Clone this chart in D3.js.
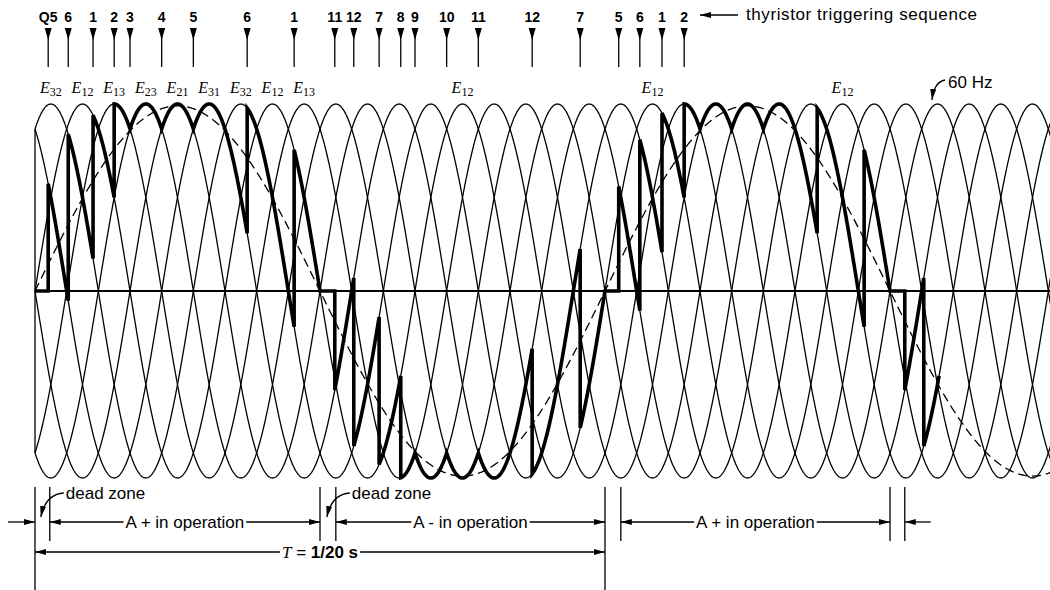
<!DOCTYPE html>
<meta charset="utf-8">
<style>
body { margin: 0; background: #fff; }
svg { display: block; }
.wave { fill: none; stroke: #000; stroke-width: 1.3px; }
.out { fill: none; stroke: #000; stroke-width: 3.6px; stroke-linejoin: miter; }
.ref { fill: none; stroke: #000; stroke-width: 1.3px; stroke-dasharray: 9 5; }
.zero { stroke: #000; stroke-width: 2.2px; }
.thin { stroke: #000; stroke-width: 1.3px; fill: none; }
.lbl { font: bold 14px "Liberation Sans", Arial, sans-serif; }
.txt { font: 17px "Liberation Sans", Arial, sans-serif; }
.e { font: italic 16px "Liberation Serif", serif; }
</style>
<svg width="1050" height="590"></svg>
<script src="https://cdn.jsdelivr.net/npm/d3@7"></script>
<script>

// All angles in electrical degrees of the 60 Hz supply (T = 1/20 s = 1080 deg)
// supply line voltage k peaks at 30 + 60k deg
var lineNames = ["32", "12", "13", "23", "21", "31"];
var eLabelCurve = [0, 1, 2, 3, 4, 5, 6, 7, 8, 13, 19, 25];

// firing instants of each half cycle
var firePos1 = [25, 63, 110, 150, 180, 240, 300, 402, 491];
var fireNeg1 = [568, 604, 652, 693, 720, 780, 840, 942, 1033];
var firePos2 = [1106, 1146, 1188, 1230, 1260, 1320, 1380, 1482, 1571];
var fireNeg2 = [1648, 1684];
var fireCurve = [-1, 0, 1, 2, 3, 4, 5, 6, 7];
var halfEnd = [540, 1080, 1620, 1713];
var triggerLabels = ["Q5", "6", "1", "2", "3", "4", "5", "6", "1", "11", "12", "7", "8", "9", "10", "11", "12", "7", "5", "6", "1", "2"];

// dead zone brackets and operation spans
var deadStart = [0, 540, 1080, 1620];
var deadEnd = [28, 570, 1110, 1648];
var opLabels = ["A + in operation", "A - in operation", "A + in operation"];
var refAmp = 0.99;

var svg = d3.select("svg"),
    W = +svg.attr("width");

var x = d3.scaleLinear().domain([0, 1080]).range([35, 605]),
    y = d3.scaleLinear().domain([-1, 1]).range([478, 104]);
var thMax = x.invert(W);

var defs = svg.append("defs");
defs.append("marker").attr("id", "ah")
    .attr("viewBox", "0 0 10 10").attr("refX", 10).attr("refY", 5)
    .attr("markerWidth", 11).attr("markerHeight", 6)
    .attr("markerUnits", "userSpaceOnUse").attr("preserveAspectRatio", "none")
    .attr("orient", "auto-start-reverse")
  .append("path").attr("d", "M0,0L10,5L0,10z");

function c(k, th) { return Math.cos((th - 30 - 60 * k) * Math.PI / 180); }

var line = d3.line()
    .x(function(d) { return x(d[0]); })
    .y(function(d) { return y(d[1]); });

// six supply line voltages
svg.append("g").selectAll("path")
    .data(d3.range(6))
  .enter().append("path")
    .attr("class", "wave")
    .attr("d", function(k) { return line(d3.range(0, thMax + 1, 1).map(function(th) { return [th, c(k, th)]; })); });

svg.append("line").attr("class", "thin")
    .attr("x1", x(0)).attr("x2", x(0)).attr("y1", y(0.866)).attr("y2", y(-0.866));

// zero axis
svg.append("line").attr("class", "zero")
    .attr("x1", x(0)).attr("x2", W).attr("y1", y(0)).attr("y2", y(0));

// desired 20 Hz output (dashed)
svg.append("path").attr("class", "ref")
    .attr("d", line(d3.range(0, thMax + 1, 1).map(function(th) { return [th, refAmp * Math.sin(th / 3 * Math.PI / 180)]; })));

// cycloconverter output
var halves = [firePos1, fireNeg1, firePos2, fireNeg2];
var out = [[0, 0]];
halves.forEach(function(fires, h) {
  out.push([fires[0], 0]);
  fires.forEach(function(f, i) {
    var k = fireCurve[i],
        end = i < fires.length - 1 ? fires[i + 1] : halfEnd[h];
    for (var th = f; th < end; th += 1) out.push([th, c(k, th)]);
    out.push([end, c(k, end)]);
  });
});
svg.append("path").attr("class", "out").attr("d", line(out));

// triggering sequence arrows
var trigDeg = firePos1.concat(fireNeg1, firePos2.slice(0, 4));
var trig = svg.append("g").selectAll("g")
    .data(trigDeg)
  .enter().append("g")
    .attr("transform", function(d) { return "translate(" + x(d) + ",0)"; });
trig.append("line").attr("class", "thin").attr("y1", 29).attr("y2", 67);
trig.append("path").attr("d", "M-3.5,28L3.5,28L0,40z");
trig.append("text").attr("class", "lbl")
    .attr("y", 22).attr("text-anchor", "middle")
    .text(function(d, i) { return triggerLabels[i]; });

svg.append("line").attr("class", "thin")
    .attr("x1", 738).attr("x2", 700).attr("y1", 15).attr("y2", 15)
    .attr("marker-end", "url(#ah)");
svg.append("text").attr("class", "txt")
    .attr("x", 746).attr("y", 20).attr("textLength", 231)
    .text("thyristor triggering sequence");

// line voltage labels
var el = svg.append("g").selectAll("text")
    .data(eLabelCurve)
  .enter().append("text")
    .attr("class", "e")
    .attr("x", function(k) { return x(30 + 60 * k); })
    .attr("y", 93)
    .attr("text-anchor", "middle");
el.append("tspan").text("E");
el.append("tspan").attr("dy", 3).style("font-style", "normal").style("font-size", "12px")
    .text(function(k) { return lineNames[k % 6]; });

// 60 Hz note
svg.append("text").attr("class", "txt").attr("x", 948).attr("y", 88).text("60 Hz");
svg.append("path").attr("class", "thin")
    .attr("d", "M945,80Q934,82 932,100")
    .attr("marker-end", "url(#ah)");

// bottom dimensioning
var yTop = 487, yRow = 522, yT = 552;
var bottom = svg.append("g");
deadStart.forEach(function(d, i) {
  bottom.append("line").attr("class", "thin")
      .attr("x1", x(d)).attr("x2", x(d)).attr("y1", yTop)
      .attr("y2", (d === 0 || d === 1080) ? 590 : 541);
  bottom.append("line").attr("class", "thin")
      .attr("x1", x(deadEnd[i])).attr("x2", x(deadEnd[i])).attr("y1", yTop).attr("y2", 541);
});

function dimArrow(x0, x1, yy, label, cls) {
  var t = bottom.append("text").attr("class", cls || "txt")
      .attr("x", (x0 + x1) / 2).attr("y", yy + 6).attr("text-anchor", "middle");
  if (typeof label === "function") label(t); else t.text(label);
  var w = t.node().getComputedTextLength();
  var cx = (x0 + x1) / 2;
  bottom.append("line").attr("class", "thin")
      .attr("x1", cx - w / 2 - 2).attr("x2", x0).attr("y1", yy).attr("y2", yy)
      .attr("marker-end", "url(#ah)");
  bottom.append("line").attr("class", "thin")
      .attr("x1", cx + w / 2 + 2).attr("x2", x1).attr("y1", yy).attr("y2", yy)
      .attr("marker-end", "url(#ah)");
}

for (var i = 0; i < 3; i++) dimArrow(x(deadEnd[i]), x(deadStart[i + 1]), yRow, opLabels[i]);

bottom.append("line").attr("class", "thin")
    .attr("x1", 8).attr("x2", x(0)).attr("y1", yRow).attr("y2", yRow)
    .attr("marker-end", "url(#ah)");
bottom.append("line").attr("class", "thin")
    .attr("x1", x(deadEnd[3]) + 26).attr("x2", x(deadEnd[3])).attr("y1", yRow).attr("y2", yRow)
    .attr("marker-end", "url(#ah)");

dimArrow(x(0), x(1080), yT, function(t) {
  t.append("tspan").style("font-family", "Liberation Serif, serif").style("font-style", "italic").text("T");
  t.append("tspan").text(" = ");
  t.append("tspan").style("font-weight", "bold").text("1/20 s");
});

// dead zone notes
[0, 1].forEach(function(i) {
  var x0 = x(deadEnd[i]);
  bottom.append("text").attr("class", "txt")
      .attr("x", x0 + 16).attr("y", 499).text("dead zone");
  bottom.append("path").attr("class", "thin")
      .attr("d", "M" + (x0 + 14) + ",493Q" + (x0 - 4) + ",494 " + (x0 - 9) + ",517")
      .attr("marker-end", "url(#ah)");
});

</script>
